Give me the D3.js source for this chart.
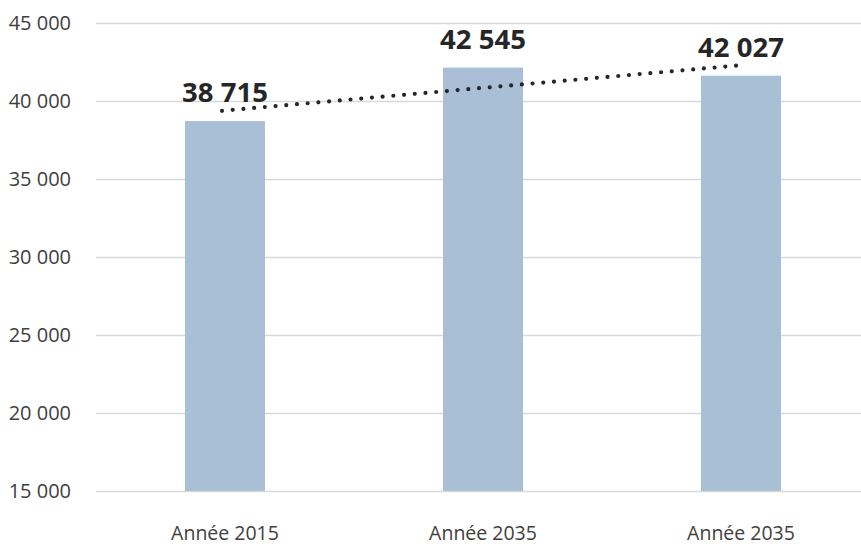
<!DOCTYPE html>
<html>
<head>
<meta charset="utf-8">
<script src="https://cdn.jsdelivr.net/npm/d3@7"></script>
<style>
  body { margin: 0; background: #fff; }
  svg { display: block; font-family: "Open Sans", sans-serif; }
</style>
</head>
<body>
<svg id="chart" width="861" height="544"></svg>
<script>
// data
const categories = ["Année 2015", "Année 2035", "Année 2035"];
const barValues = [38715, 42140, 41620];
const labelValues = [38715, 42545, 42027];
const yTicks = [15000, 20000, 25000, 30000, 35000, 40000, 45000];

const fr = d3.formatLocale({ decimal: ",", thousands: " ", grouping: [3], currency: ["", " €"] });
const fmt = fr.format(",d");

const svg = d3.select("#chart");
const width = 861, height = 544;
const margin = { top: 23, right: -9, bottom: 53, left: 96 };

const x = d3.scaleBand()
  .domain(d3.range(categories.length))
  .range([margin.left, width - margin.right])
  .paddingInner(0.69)
  .paddingOuter(0.345);

const y = d3.scaleLinear()
  .domain([15000, 45000])
  .range([height - margin.bottom, margin.top]);

// gridlines + y labels
const yAxis = d3.axisLeft(y)
  .tickValues(yTicks)
  .tickFormat(fmt)
  .tickSize(-(width - margin.left))
  .tickPadding(25);

const gy = svg.append("g")
  .attr("transform", `translate(${margin.left},0)`)
  .call(yAxis);
gy.select(".domain").remove();
gy.selectAll(".tick line").attr("stroke", "#d9d9d9").attr("stroke-width", 1.3);
gy.selectAll(".tick text")
  .attr("fill", "#404040")
  .style("font-size", "20px")
  .style("font-family", "'Open Sans', sans-serif");

// bars
svg.append("g")
  .selectAll("rect")
  .data(barValues)
  .join("rect")
  .attr("x", (d, i) => x(i))
  .attr("width", x.bandwidth())
  .attr("y", d => y(d))
  .attr("height", d => y(15000) - y(d))
  .attr("fill", "#a8bfd6");

// linear trend line through the bars
const xs = barValues.map((d, i) => i + 1);
const mx = d3.mean(xs), my = d3.mean(barValues);
const slope = d3.sum(xs, (xi, i) => (xi - mx) * (barValues[i] - my)) / d3.sum(xs, xi => (xi - mx) ** 2);
const trend = xi => my + slope * (xi - mx);
const cx = i => x(i) + x.bandwidth() / 2;

svg.append("path")
  .attr("d", d3.line()([
    [cx(0) - 3, y(trend(1))],
    [cx(barValues.length - 1) - 3, y(trend(barValues.length))]
  ]))
  .attr("fill", "none")
  .attr("stroke", "#262626")
  .attr("stroke-width", 4.2)
  .attr("stroke-linecap", "round")
  .attr("stroke-dasharray", "0 10.75");

// value labels
svg.append("g")
  .selectAll("text")
  .data(labelValues)
  .join("text")
  .attr("x", (d, i) => cx(i))
  .attr("y", (d, i) => y(barValues[i]) - 19)
  .attr("text-anchor", "middle")
  .attr("fill", "#262626")
  .style("font-size", "27.5px")
  .style("font-weight", "bold")
  .text(d => fmt(d));

// category labels
svg.append("g")
  .selectAll("text")
  .data(categories)
  .join("text")
  .attr("x", (d, i) => cx(i))
  .attr("y", 540)
  .attr("text-anchor", "middle")
  .attr("fill", "#404040")
  .style("font-size", "19.5px")
  .text(d => d);
</script>
</body>
</html>
